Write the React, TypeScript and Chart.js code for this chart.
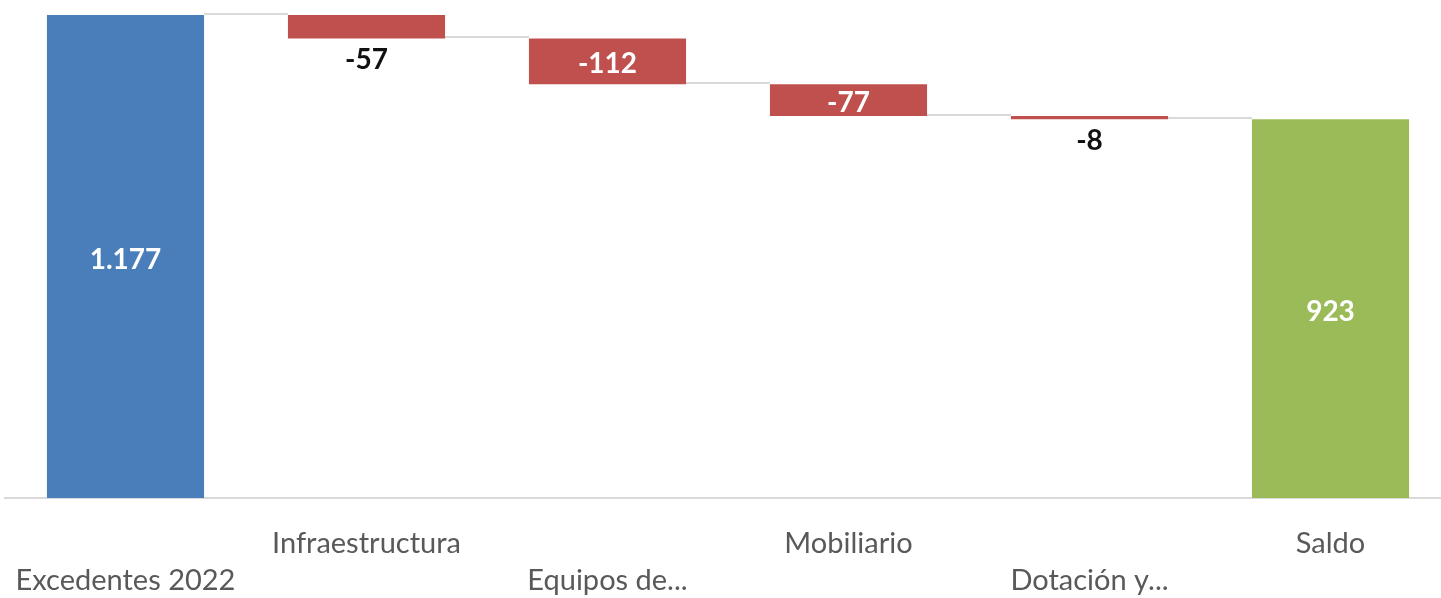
import React, { useEffect, useRef } from "react";
import { Chart, registerables } from "chart.js";

Chart.register(...registerables);

const categories = ["Excedentes 2022", "Infraestructura", "Equipos de...", "Mobiliario", "Dotación y...", "Saldo"];
const values = [1177, -57, -112, -77, -8, 923];
const isTotal = [true, false, false, false, false, true];
const valueLabels = ["1.177", "-57", "-112", "-77", "-8", "923"];
const labelRow = [1, 0, 1, 0, 1, 0];

const COLOR_TOTAL_START = "#4a7ebb";
const COLOR_TOTAL_END = "#9bbb59";
const COLOR_DOWN = "#c0504d";
const COLOR_UP = "#4a7ebb";
const FONT = "Lato";

function buildFloating() {
  const ranges: [number, number][] = [];
  const ends: number[] = [];
  let run = 0;
  values.forEach((v, i) => {
    if (isTotal[i]) {
      ranges.push([0, v]);
      run = v;
    } else {
      ranges.push([run, run + v]);
      run = run + v;
    }
    ends.push(run);
  });
  return { ranges, ends };
}

export default function App() {
  const ref = useRef<HTMLCanvasElement | null>(null);
  useEffect(() => {
    if (!ref.current) return;
    const { ranges, ends } = buildFloating();
    const colors = values.map((v, i) =>
      isTotal[i] ? (i === 0 ? COLOR_TOTAL_START : COLOR_TOTAL_END) : v < 0 ? COLOR_DOWN : COLOR_UP
    );
    const tickLabels = categories.map((c, i) => (labelRow[i] === 0 ? [c, ""] : ["", c]));
    const maxVal = Math.max(...ranges.map((r) => Math.max(r[0], r[1])));

    const connectorPlugin = {
      id: "connectors",
      beforeDatasetsDraw(chart: any) {
        const ctx = chart.ctx;
        const meta = chart.getDatasetMeta(0);
        const y = chart.scales.y;
        ctx.save();
        ctx.strokeStyle = "#d9d9d9";
        ctx.lineWidth = 2;
        for (let i = 0; i < meta.data.length - 1; i++) {
          const a = meta.data[i] as any;
          const b = meta.data[i + 1] as any;
          const py = Math.round(y.getPixelForValue(ends[i])) - 1;
          ctx.beginPath();
          ctx.moveTo(a.x + a.width / 2, py);
          ctx.lineTo(b.x - b.width / 2, py);
          ctx.stroke();
        }
        ctx.restore();
      },
    };

    const labelPlugin = {
      id: "valueLabels",
      afterDatasetsDraw(chart: any) {
        const ctx = chart.ctx;
        const meta = chart.getDatasetMeta(0);
        ctx.save();
        ctx.font = `bold 28px ${FONT}`;
        ctx.textAlign = "center";
        ctx.textBaseline = "middle";
        meta.data.forEach((el: any, i: number) => {
          const top = Math.min(el.y, el.base);
          const bottom = Math.max(el.y, el.base);
          const h = bottom - top;
          if (h > 28) {
            ctx.fillStyle = "#ffffff";
            ctx.fillText(valueLabels[i], el.x, (top + bottom) / 2 + 3);
          } else {
            ctx.fillStyle = "#111111";
            ctx.fillText(valueLabels[i], el.x, bottom + 22);
          }
        });
        ctx.restore();
      },
    };

    const chart = new Chart(ref.current, {
      type: "bar",
      data: {
        labels: tickLabels as any,
        datasets: [
          {
            data: ranges as any,
            backgroundColor: colors,
            borderWidth: 0,
            barPercentage: 0.652,
            categoryPercentage: 1,
          },
        ],
      },
      options: {
        animation: false,
        responsive: true,
        maintainAspectRatio: false,
        layout: { padding: { left: 5, right: 1, top: 15, bottom: 0 } },
        plugins: { legend: { display: false }, tooltip: { enabled: false } },
        scales: {
          x: {
            grid: { display: false, drawTicks: false },
            border: { display: true, color: "#d9d9d9", width: 2 },
            afterFit: (scale: any) => {
              scale.paddingLeft = 0;
              scale.paddingRight = 0;
            },
            ticks: {
              autoSkip: false,
              maxRotation: 0,
              minRotation: 0,
              padding: 27,
              color: "#595959",
              font: { family: FONT, size: 29, lineHeight: 37 / 29 },
            },
          },
          y: {
            display: false,
            min: 0,
            max: maxVal,
          },
        },
      },
      plugins: [connectorPlugin, labelPlugin],
    });
    return () => chart.destroy();
  }, []);

  return (
    <div
      style={{
        position: "fixed",
        left: 0,
        top: 0,
        width: 1441,
        height: 598,
        overflow: "hidden",
        background: "#ffffff",
      }}
    >
      <div style={{ position: "relative", width: 1452, height: 626 }}>
        <canvas ref={ref} />
      </div>
    </div>
  );
}
